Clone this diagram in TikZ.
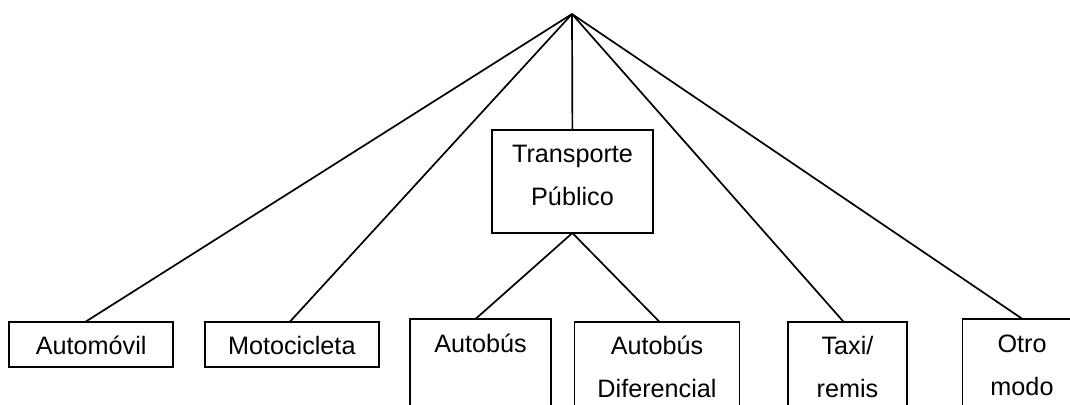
\documentclass[tikz,border=0pt]{standalone}
\usepackage{fontspec}
\setmainfont{Liberation Sans}
\tikzset{
  box/.style={draw, line width=0.9pt, rectangle, inner sep=0pt, outer sep=0pt, anchor=north west},
  lbl/.style={inner sep=0pt, outer sep=0pt, anchor=base, align=center, font=\fontsize{12.6}{21.5}\selectfont},
  conn/.style={line width=0.85pt}
}
\begin{document}
\begin{tikzpicture}[x=0.5pt,y=-0.5pt]
\useasboundingbox (0,0) rectangle (1070,404);
\clip (0,0) rectangle (1070,404);
\coordinate (apex) at (572,14);
% boxes
\node[box, minimum width=80.7pt, minimum height=51.5pt] (tp) at (491.7,130) {};
\node[box, minimum width=82.15pt, minimum height=22.3pt] (auto) at (9,322.3) {};
\node[box, minimum width=86.95pt, minimum height=22.3pt] (moto) at (204.9,322.3) {};
\node[box, minimum width=70.5pt, minimum height=60pt] (bus) at (410,319) {};
\node[box, minimum width=82.45pt, minimum height=60pt] (dif) at (574.5,321.7) {};
\node[box, minimum width=59.2pt, minimum height=60pt] (taxi) at (788.3,321.7) {};
\node[box, minimum width=60pt, minimum height=60pt] (otro) at (962.5,319) {};
% labels (base = baseline of last line)
\node[lbl] (tpT) at (572.5,205) {Transporte\\Público};
\node[lbl] (autoT) at (91.2,354.3) {Automóvil};
\node[lbl] (motoT) at (291.8,354.3) {Motocicleta};
\node[lbl] (busT) at (480.5,352) {Autobús};
\node[lbl] (difT) at (657,397) {Autobús\\Diferencial};
\node[lbl] (taxiT) at (847.5,397) {Taxi/\\remis};
\node[lbl] (otroT) at (1022,395) {Otro\\modo};
% connectors
\draw[conn] (apex) -- ([xshift=-3.25pt]auto.north);
\draw[conn] (apex) -- ([xshift=-1.25pt]moto.north);
\draw[conn] (apex) -- (tp.north);
\draw[conn] (apex) -- ([xshift=-2pt]taxi.north);
\draw[conn] (apex) -- (otro.north);
\draw[conn] (tp.south) -- ([xshift=-2.5pt]bus.north);
\draw[conn] (tp.south) -- ([xshift=1.2pt]dif.north);
\end{tikzpicture}
\end{document}
